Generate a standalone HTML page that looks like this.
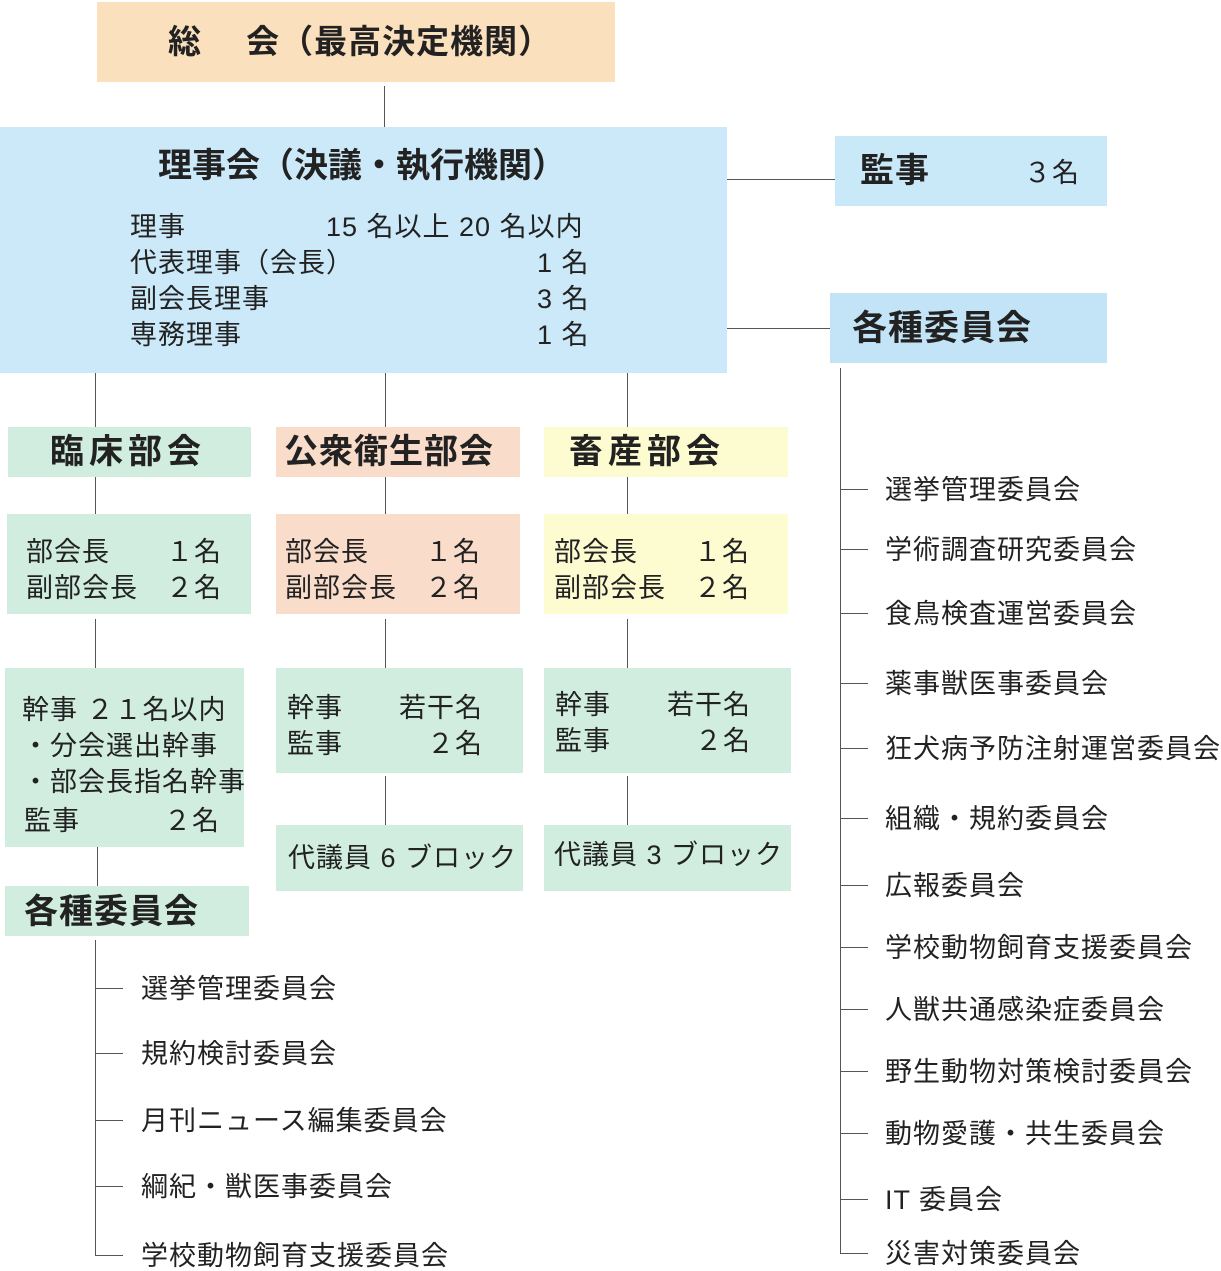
<!DOCTYPE html>
<html><head><meta charset="utf-8"><style>
body{margin:0;width:1221px;height:1268px;background:#fff;position:relative;font-family:"Liberation Sans","Noto Sans CJK JP",sans-serif;color:#222;overflow:hidden}
div{position:absolute;box-sizing:border-box}
.b{font-weight:bold}
.l{background:#555}
.t{font-size:27px;letter-spacing:1px;white-space:nowrap;line-height:1}
.g{background:#d0ede0}.p{background:#fadccb}.y{background:#fdfbd0}
</style></head><body>
<div style="left:97px;top:2px;width:518px;height:80px;background:#fbe0bd"></div>
<div class="t b" style="left:168px;top:25px;font-size:33px;letter-spacing:1px">総　 会（最高決定機関）</div>
<div class="l" style="left:384px;top:86px;width:1px;height:41px"></div>

<div style="left:0;top:127px;width:727px;height:246px;background:#cce9f9"></div>
<div class="t b" style="left:158px;top:149px;font-size:34px;letter-spacing:0">理事会（決議・執行機関）</div>
<div class="t" style="left:130px;top:214px">理事</div><div class="t" style="left:326px;top:214px">15 名以上 20 名以内</div>
<div class="t" style="left:130px;top:250px">代表理事（会長）</div><div class="t" style="left:537px;top:250px">1 名</div>
<div class="t" style="left:130px;top:286px">副会長理事</div><div class="t" style="left:537px;top:286px">3 名</div>
<div class="t" style="left:130px;top:322px">専務理事</div><div class="t" style="left:537px;top:322px">1 名</div>

<div class="l" style="left:727px;top:179px;width:108px;height:1px"></div>
<div style="left:835px;top:136px;width:272px;height:70px;background:#c9e8f8"></div>
<div class="t b" style="left:860px;top:154px;font-size:34px;letter-spacing:1px">監事</div>
<div class="t" style="left:1024px;top:160px">３名</div>

<div class="l" style="left:727px;top:328px;width:103px;height:1px"></div>
<div style="left:830px;top:293px;width:277px;height:70px;background:#c2e4f6"></div>
<div class="t b" style="left:852px;top:311px;font-size:35px;letter-spacing:1px">各種委員会</div>

<div class="l" style="left:95px;top:373px;width:1px;height:54px"></div>
<div class="l" style="left:385px;top:373px;width:1px;height:54px"></div>
<div class="l" style="left:627px;top:373px;width:1px;height:54px"></div>
<div class="l" style="left:95px;top:477px;width:1px;height:37px"></div>
<div class="l" style="left:385px;top:477px;width:1px;height:37px"></div>
<div class="l" style="left:627px;top:477px;width:1px;height:37px"></div>
<div class="l" style="left:95px;top:619px;width:1px;height:49px"></div>
<div class="l" style="left:385px;top:619px;width:1px;height:49px"></div>
<div class="l" style="left:627px;top:619px;width:1px;height:49px"></div>
<div class="l" style="left:385px;top:776px;width:1px;height:49px"></div>
<div class="l" style="left:627px;top:776px;width:1px;height:49px"></div>
<div class="l" style="left:97px;top:847px;width:1px;height:39px"></div>

<div class="g" style="left:8px;top:427px;width:243px;height:50px"></div>
<div class="t b" style="left:50px;top:435px;font-size:34px;letter-spacing:5px">臨床部会</div>
<div class="p" style="left:276px;top:427px;width:244px;height:50px"></div>
<div class="t b" style="left:284px;top:435px;font-size:34px;letter-spacing:1px">公衆衛生部会</div>
<div class="y" style="left:544px;top:427px;width:244px;height:50px"></div>
<div class="t b" style="left:569px;top:435px;font-size:34px;letter-spacing:5px">畜産部会</div>

<div class="g" style="left:7px;top:514px;width:244px;height:100px"></div>
<div class="t" style="left:26px;top:534px;line-height:36px">部会長　　１名<br>副部会長　２名</div>
<div class="p" style="left:276px;top:514px;width:244px;height:100px"></div>
<div class="t" style="left:285px;top:534px;line-height:36px">部会長　　１名<br>副部会長　２名</div>
<div class="y" style="left:544px;top:514px;width:244px;height:100px"></div>
<div class="t" style="left:554px;top:534px;line-height:36px">部会長　　１名<br>副部会長　２名</div>

<div class="g" style="left:5px;top:668px;width:239px;height:179px"></div>
<div class="t" style="left:22px;top:692px;line-height:36px">幹事 ２１名以内<br>・分会選出幹事<br>・部会長指名幹事</div>
<div class="t" style="left:24px;top:808px">監事　　　２名</div>
<div class="g" style="left:276px;top:668px;width:247px;height:105px"></div>
<div class="t" style="left:287px;top:690px;line-height:36px">幹事　　若干名<br>監事　　　２名</div>
<div class="g" style="left:544px;top:668px;width:247px;height:105px"></div>
<div class="t" style="left:555px;top:687px;line-height:36px">幹事　　若干名<br>監事　　　２名</div>

<div class="g" style="left:276px;top:825px;width:247px;height:66px"></div>
<div class="t" style="left:288px;top:845px;letter-spacing:1px">代議員 6 ブロック</div>
<div class="g" style="left:544px;top:825px;width:247px;height:66px"></div>
<div class="t" style="left:554px;top:842px;letter-spacing:1px">代議員 3 ブロック</div>

<div class="g" style="left:5px;top:886px;width:244px;height:50px"></div>
<div class="t b" style="left:24px;top:895px;font-size:34px;letter-spacing:1px">各種委員会</div>

<div class="l" style="left:95px;top:940px;width:1px;height:315px"></div>
<div class="l" style="left:95px;top:988px;width:28px;height:1px"></div>
<div class="l" style="left:95px;top:1053px;width:28px;height:1px"></div>
<div class="l" style="left:95px;top:1120px;width:28px;height:1px"></div>
<div class="l" style="left:95px;top:1186px;width:28px;height:1px"></div>
<div class="l" style="left:95px;top:1255px;width:28px;height:1px"></div>
<div class="t" style="left:141px;top:976px">選挙管理委員会</div>
<div class="t" style="left:141px;top:1041px">規約検討委員会</div>
<div class="t" style="left:141px;top:1108px">月刊ニュース編集委員会</div>
<div class="t" style="left:141px;top:1174px">綱紀・獣医事委員会</div>
<div class="t" style="left:141px;top:1243px">学校動物飼育支援委員会</div>

<div class="l" style="left:840px;top:368px;width:1px;height:885px"></div>
<div class="l" style="left:840px;top:489px;width:28px;height:1px"></div>
<div class="l" style="left:840px;top:549px;width:28px;height:1px"></div>
<div class="l" style="left:840px;top:613px;width:28px;height:1px"></div>
<div class="l" style="left:840px;top:683px;width:28px;height:1px"></div>
<div class="l" style="left:840px;top:748px;width:28px;height:1px"></div>
<div class="l" style="left:840px;top:818px;width:28px;height:1px"></div>
<div class="l" style="left:840px;top:885px;width:28px;height:1px"></div>
<div class="l" style="left:840px;top:947px;width:28px;height:1px"></div>
<div class="l" style="left:840px;top:1009px;width:28px;height:1px"></div>
<div class="l" style="left:840px;top:1071px;width:28px;height:1px"></div>
<div class="l" style="left:840px;top:1133px;width:28px;height:1px"></div>
<div class="l" style="left:840px;top:1199px;width:28px;height:1px"></div>
<div class="l" style="left:840px;top:1253px;width:28px;height:1px"></div>
<div class="t" style="left:885px;top:477px">選挙管理委員会</div>
<div class="t" style="left:885px;top:537px">学術調査研究委員会</div>
<div class="t" style="left:885px;top:601px">食鳥検査運営委員会</div>
<div class="t" style="left:885px;top:671px">薬事獣医事委員会</div>
<div class="t" style="left:885px;top:736px">狂犬病予防注射運営委員会</div>
<div class="t" style="left:885px;top:806px">組織・規約委員会</div>
<div class="t" style="left:885px;top:873px">広報委員会</div>
<div class="t" style="left:885px;top:935px">学校動物飼育支援委員会</div>
<div class="t" style="left:885px;top:997px">人獣共通感染症委員会</div>
<div class="t" style="left:885px;top:1059px">野生動物対策検討委員会</div>
<div class="t" style="left:885px;top:1121px">動物愛護・共生委員会</div>
<div class="t" style="left:885px;top:1187px">IT 委員会</div>
<div class="t" style="left:885px;top:1241px">災害対策委員会</div>
</body></html>
